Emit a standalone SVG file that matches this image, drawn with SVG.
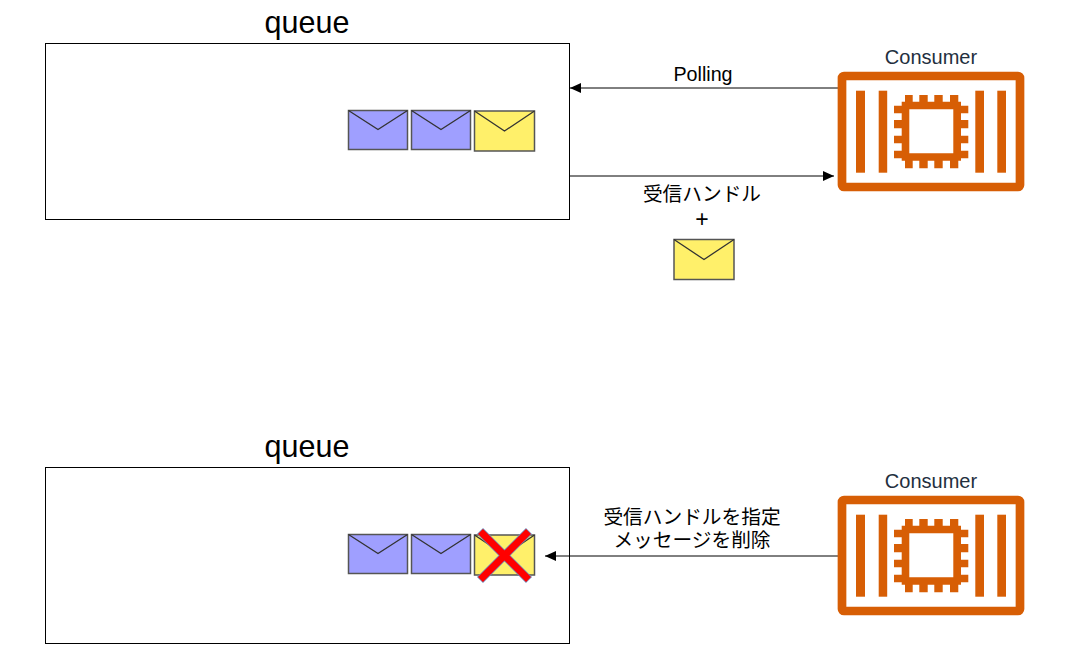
<svg xmlns="http://www.w3.org/2000/svg" width="1077" height="667" viewBox="0 0 1077 667">
<style>
.q{fill:#fff;stroke:#000;stroke-width:1}
.t{font-family:"Liberation Sans","Noto Sans CJK JP",sans-serif;fill:#000;text-anchor:middle}
.big{font-size:30.500px}
.lab{font-size:19.700px}
.plus{font-size:23px}
.cons{font-size:20px;fill:#232f3e}
.line{fill:none;stroke:#000;stroke-width:1}
.purple{fill:#9f9fff}
.yellow{fill:#fff06a}
.env rect{stroke:#555;stroke-width:1.500}
.env path{fill:none;stroke:#333;stroke-width:1.300}
.or{fill:#d75e05}
</style>
<defs>
<marker id="arr" markerWidth="12" markerHeight="10" refX="11" refY="5" orient="auto" markerUnits="userSpaceOnUse"><path d="M0 0L11 5L0 10Z" fill="#000"/></marker>
<g id="chipicon">
<rect x="4" y="4" width="178" height="111" rx="2" fill="none" stroke="#d75e05" stroke-width="8.700"/>
<rect class="or" x="18" y="18.700" width="9" height="82"/>
<rect class="or" x="40.700" y="18.700" width="8.500" height="82"/>
<rect class="or" x="137.300" y="18.700" width="8.700" height="82"/>
<rect class="or" x="159.300" y="18.700" width="8.700" height="82"/>
<path class="or" fill-rule="evenodd" d="M67 23H74.700V29.700H81.300V23H89.700V29.700H96.300V23H104.700V29.700H112V23H120.300V29.700H123V33.700H130.300V41.300H123V48H130.300V56.300H123V63.700H130.300V71.300H123V78.700H130.300V86.300H123V88.700H120.300V96.300H112V88.700H104.700V96.300H96.300V88.700H89.700V96.300H81.300V88.700H74.700V96.300H67V88.700H63.700V86.300H56V78.700H63.700V71.300H56V63.700H63.700V56.300H56V48H63.700V41.300H56V33.700H63.700V29.700H67ZM71.300 37.300V81.300H115.300V37.300Z"/>
</g>
</defs>
<g id="queue-top"><rect class="q" x="45.500" y="43.500" width="524" height="176"/><text class="t big" x="307" y="33">queue</text></g>
<g id="queue-bottom"><rect class="q" x="45.500" y="467.500" width="524" height="176"/><text class="t big" x="307" y="457">queue</text></g>
<g id="msg-top-1" class="env"><rect class="purple" x="348.500" y="110.500" width="59" height="39"/><path d="M348.500 110.500L378 129.500L407.500 110.500"/></g>
<g id="msg-top-2" class="env"><rect class="purple" x="411.500" y="110.500" width="59" height="39"/><path d="M411.500 110.500L441 129.500L470.500 110.500"/></g>
<g id="msg-top-3" class="env"><rect class="yellow" x="474.500" y="111" width="60" height="40"/><path d="M474.500 111L504.500 131L534.500 111"/></g>
<g id="msg-sent" class="env"><rect class="yellow" x="674" y="239.500" width="60" height="40"/><path d="M674 239.500L704 259.500L734 239.500"/></g>
<g id="msg-bot-1" class="env"><rect class="purple" x="348.500" y="534.500" width="59" height="39"/><path d="M348.500 534.500L378 553.500L407.500 534.500"/></g>
<g id="msg-bot-2" class="env"><rect class="purple" x="411.500" y="534.500" width="59" height="39"/><path d="M411.500 534.500L441 553.500L470.500 534.500"/></g>
<g id="msg-bot-3" class="env"><rect class="yellow" x="474.500" y="535" width="60" height="40"/><path d="M474.500 535L504.500 555L534.500 535"/></g>
<g id="cross"><path d="M480 531L529 580M529 531L480 580" fill="none" stroke="#6c8ebf" stroke-width="8.500"/><path d="M480.500 531.500L528.500 579.500M528.500 531.500L480.500 579.500" fill="none" stroke="#ff0000" stroke-width="7"/></g>
<g id="connectors">
<path class="line" d="M838 88H570" marker-end="url(#arr)"/>
<path class="line" d="M570 176H834" marker-end="url(#arr)"/>
<path class="line" d="M838 556H545" marker-end="url(#arr)"/>
</g>
<g id="consumer-top"><use href="#chipicon" x="838" y="72"/><text class="t cons" x="931" y="64">Consumer</text></g>
<g id="consumer-bottom"><use href="#chipicon" x="838" y="496"/><text class="t cons" x="931" y="488">Consumer</text></g>
<text class="t lab" x="703" y="81">Polling</text>
<text class="t lab" x="702" y="201">受信ハンドル</text>
<text class="t plus" x="702" y="227">+</text>
<text class="t lab" x="692" y="524">受信ハンドルを指定</text>
<text class="t lab" x="692" y="547">メッセージを削除</text>
</svg>
